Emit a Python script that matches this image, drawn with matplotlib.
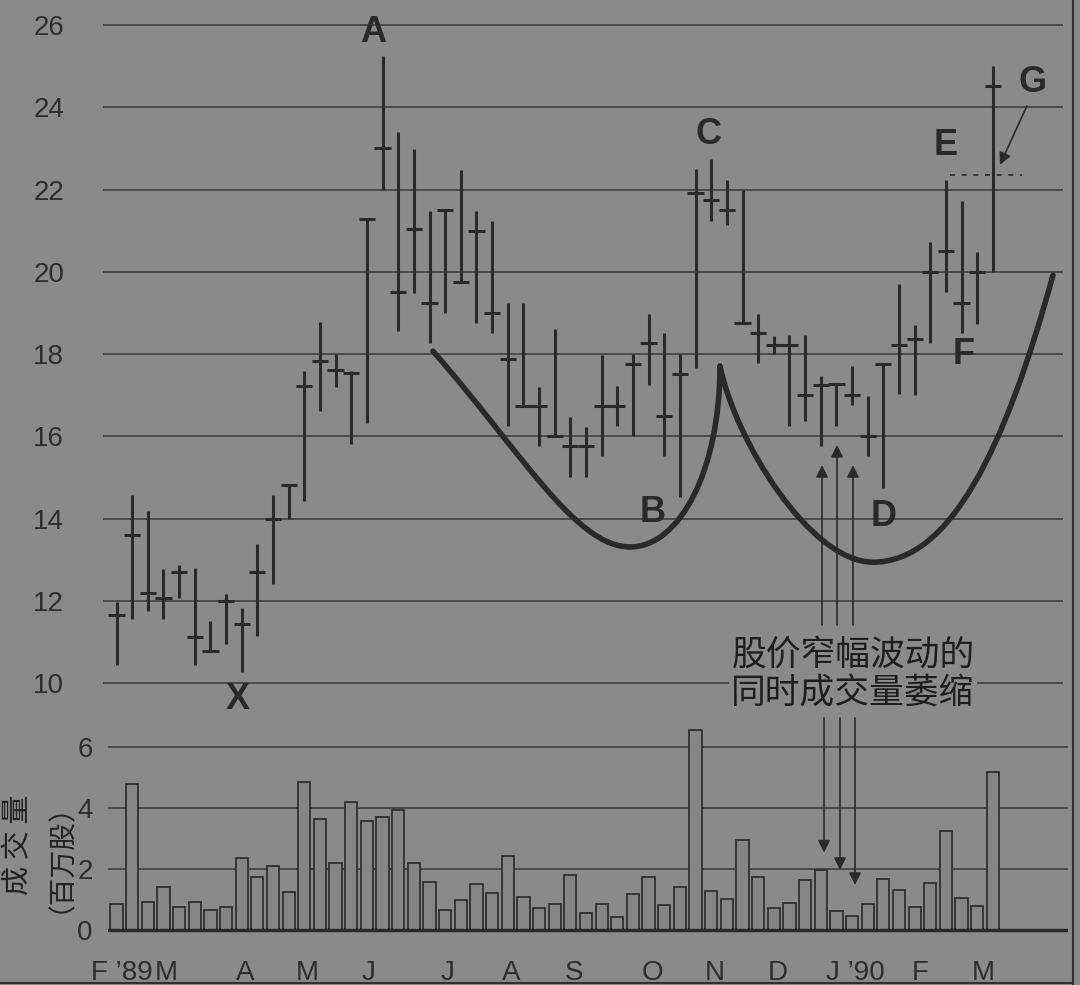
import numpy as np
import matplotlib
matplotlib.use('Agg')
import matplotlib.pyplot as plt
from matplotlib.path import Path
from matplotlib.patches import PathPatch
from matplotlib.lines import Line2D

W, H = 1080, 985
BG = '#8a8a8a'
INK = '#2a2a2a'

# weekly bars, Feb '89 - Mar '90 (price in $, volume in millions of shares)
high = [11.96, 14.58, 14.18, 12.77, 12.87, 12.79, 11.52, 12.16, 11.83, 13.39,
        14.58, 14.82, 17.58, 18.78, 18.00, 17.58, 21.29, 25.25, 23.41, 22.99,
        21.48, 21.50, 22.48, 21.48, 21.24, 19.23, 19.23, 17.21, 18.60, 16.47,
        16.23, 17.98, 17.23, 18.00, 18.98, 18.50, 18.00, 22.50, 22.75, 22.22,
        21.99, 18.98, 18.43, 18.47, 18.47, 17.46, 17.26, 17.72, 16.97, 17.76,
        19.70, 18.71, 20.73, 22.23, 21.72, 20.48, 25.00]
low = [10.43, 11.57, 11.76, 11.55, 12.08, 10.45, 10.78, 10.94, 10.26, 11.15,
       12.40, 14.00, 14.42, 16.61, 17.21, 15.81, 16.32, 22.00, 18.55, 19.49,
       18.27, 18.99, 19.74, 18.76, 18.51, 16.24, 16.74, 15.76, 16.00, 15.02,
       15.02, 15.52, 16.24, 16.00, 17.25, 15.52, 14.53, 17.65, 21.23, 21.13,
       18.74, 17.79, 18.00, 16.25, 16.37, 15.76, 16.25, 16.76, 15.52, 14.75,
       17.03, 17.01, 18.26, 19.50, 18.50, 18.73, 20.00]
close = [11.65, 13.59, 12.18, 12.08, 12.69, 11.13, 10.78, 12.00, 11.43, 12.69,
         14.00, 14.82, 17.22, 17.82, 17.62, 17.54, 21.29, 23.02, 19.52, 21.03,
         19.23, 21.50, 19.74, 21.00, 19.00, 17.87, 16.74, 16.74, 16.00, 15.76,
         15.76, 16.74, 16.74, 17.76, 18.26, 16.50, 17.52, 21.92, 21.75, 21.49,
         18.75, 18.51, 18.23, 18.23, 17.00, 17.24, 17.26, 17.00, 16.00, 17.76,
         18.23, 18.37, 20.00, 20.51, 19.23, 20.00, 24.52]
volume = [0.85, 4.78, 0.93, 1.40, 0.77, 0.93, 0.66, 0.74, 2.35, 1.73,
          2.10, 1.26, 4.84, 3.64, 2.19, 4.20, 3.57, 3.69, 3.93, 2.19,
          1.57, 0.66, 0.97, 1.51, 1.20, 2.44, 1.07, 0.72, 0.84, 1.79,
          0.57, 0.84, 0.42, 1.18, 1.75, 0.82, 1.40, 6.57, 1.28, 1.01,
          2.94, 1.75, 0.71, 0.88, 1.64, 1.97, 0.62, 0.46, 0.85, 1.68,
          1.31, 0.77, 1.53, 3.25, 1.04, 0.79, 5.17]

month_labels = ['F \u201989', 'M', 'A', 'M', 'J', 'J', 'A', 'S', 'O', 'N', 'D',
                'J \u201990', 'F', 'M']
month_pos = [0.32, 3.16, 8.21, 12.17, 16.13, 21.18, 25.2, 29.23, 34.22, 38.24,
             42.27, 47.22, 51.34, 55.37]

price_ticks = list(range(10, 27, 2))
vol_ticks = [0, 2, 4, 6]

# point labels (bar index, price)
pt_names = ['A', 'B', 'C', 'D', 'E', 'F', 'G', 'X']
pt_x = [16.39, 34.28, 37.8, 49.04, 53.0, 54.15, 58.56, 7.76]
pt_y = [25.81, 14.14, 23.33, 14.04, 23.08, 17.98, 24.59, 9.59]

# cup outline, cubic bezier control points (bar index, price)
cup_x = [20.22, 25.78, 29.30, 32.81, 36.01, 38.56, 38.56, 39.52, 44.31, 48.34,
         53.26, 56.77, 59.84]
cup_y = [18.07, 15.67, 13.31, 13.31, 13.31, 15.18, 17.71, 15.91, 12.94, 12.94,
         12.94, 15.67, 19.92]

note = '股价窄幅波动的\n同时成交量萎缩'

plt.rcParams['font.family'] = ['Liberation Sans', 'Noto Sans CJK SC', 'DejaVu Sans']

# pixel layout: bar i sits at x = X0 + DX*i
X0, DX = 116.5, 15.65
def to_idx(px):
    return (px - X0) / DX

fig = plt.figure(figsize=(W / 100, H / 100), dpi=100, facecolor=BG)

# price panel: 26 at y=25px, 41.13 px per dollar
ax_p = fig.add_axes([103 / W, (H - 712) / H, 960 / W, 712 / H])
ax_p.set_facecolor('none')
ax_p.set_xlim(to_idx(103), to_idx(1063))
ax_p.set_ylim(26 - (712 - 25) / 41.13, 26 + 25 / 41.13)

# volume panel: 0 at y=930px, 30.5 px per million
ax_v = fig.add_axes([108 / W, (H - 935) / H, 960 / W, (935 - 712) / H])
ax_v.set_facecolor('none')
ax_v.set_xlim(to_idx(108), to_idx(1068))
ax_v.set_ylim(-5 / 30.5, (930 - 712) / 30.5)

for ax in (ax_p, ax_v):
    for s in ax.spines.values():
        s.set_visible(False)
    ax.grid(axis='y', color='#404040', lw=1.2)
    ax.set_axisbelow(True)

idx = np.arange(len(high))
ax_p.vlines(idx, low, high, color=INK, lw=2.2)
ax_p.hlines(close, idx - 0.52, idx + 0.52, color=INK, lw=2.2)

ax_p.set_yticks(price_ticks)
ax_p.set_xticks([])
ax_p.tick_params(axis='y', length=0, pad=28, labelsize=20, labelcolor='#2e2e2e')

codes = [Path.MOVETO] + [Path.CURVE4] * (len(cup_x) - 1)
cup = PathPatch(Path(np.column_stack([cup_x, cup_y]), codes), fill=False,
                edgecolor=INK, lw=4, joinstyle='round', capstyle='round')
ax_p.add_patch(cup)

for name, x, y in zip(pt_names, pt_x, pt_y):
    ax_p.text(x, y, name, ha='center', va='center', fontsize=26, fontweight='bold',
              color=INK, family=['Liberation Sans Narrow', 'Liberation Sans'])

ax_p.plot([to_idx(950), to_idx(1022)], [22.35, 22.35], color=INK, lw=1.2, ls=(0, (3, 4)))
arr = dict(arrowstyle='-|>', color=INK, lw=1.2, mutation_scale=18, shrinkA=0, shrinkB=0)
ax_p.annotate('', xy=(56.45, 22.6), xytext=(58.17, 24.03), arrowprops=arr)

for x, tip in zip([45.08, 46.04, 47.06], [15.30, 15.79, 15.30]):
    ax_p.annotate('', xy=(x, tip), xytext=(x, 11.41), arrowprops=arr)

ax_p.text(47.06, 10.21, note, ha='center', va='center', fontsize=25, color='#1e1e1e',
          linespacing=1.15, family=['Noto Sans CJK SC', 'DejaVu Sans'],
          bbox=dict(facecolor=BG, edgecolor='none', pad=2))

# volume
ax_v.bar(idx, volume, width=0.78, color='#858585', edgecolor='#303030', lw=1.3)
ax_v.axhline(0, color=INK, lw=2.5)
ax_v.set_yticks(vol_ticks)
ax_v.set_xticks(month_pos)
ax_v.set_xticklabels(month_labels)
ax_v.tick_params(axis='y', length=0, pad=11, labelsize=20, labelcolor='#2e2e2e')
ax_v.tick_params(axis='x', length=0, pad=18, labelsize=20, labelcolor='#2e2e2e')

for x, tip in zip([45.21, 46.23, 47.19], [2.54, 1.97, 1.48]):
    ax_v.annotate('', xy=(x, tip), xytext=(x, 6.95), arrowprops=arr, annotation_clip=False)

fig.text(18 / W, (H - 845) / H, '成 交 量', rotation=90, ha='center', va='center',
         fontsize=21, color='#222222', family=['Noto Sans CJK SC', 'DejaVu Sans'])
fig.text(46 / W, (H - 844) / H, '（百万股）', rotation=90, ha='center', va='center',
         fontsize=20, color='#222222', family=['Noto Sans CJK SC', 'DejaVu Sans'])

# frame on the right and bottom edges
fig.add_artist(Line2D([1073 / W, 1073 / W], [0, 1], color='#303030', lw=1.5))
fig.add_artist(Line2D([0, 1073 / W], [2 / H, 2 / H], color='#303030', lw=1.5))

fig.savefig('out.png', dpi=100, facecolor=BG)
